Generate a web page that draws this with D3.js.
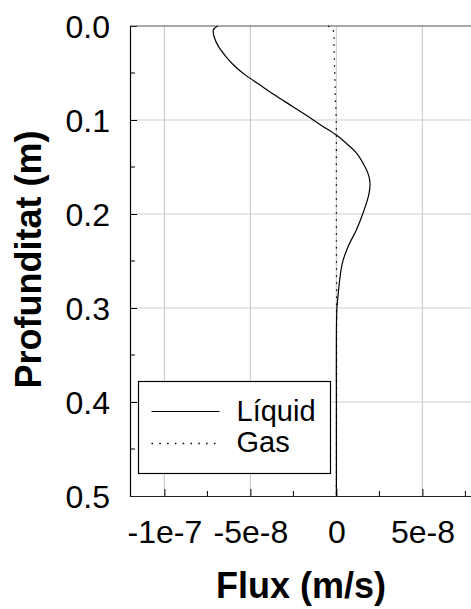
<!DOCTYPE html>
<html>
<head>
<meta charset="utf-8">
<script src="https://cdn.jsdelivr.net/npm/d3@7"></script>
<style>
  body { margin: 0; background: #fff; }
  svg { display: block; font-family: "Liberation Sans", Arial, sans-serif; }
</style>
</head>
<body>
<div id="flux_container"></div>
<script>
// data
const liquid_depth = [0, 0.004, 0.012, 0.022, 0.033, 0.042, 0.052, 0.062, 0.072, 0.085, 0.095, 0.106, 0.116, 0.126, 0.135, 0.146, 0.157, 0.166, 0.178, 0.199, 0.217, 0.235, 0.252, 0.27, 0.288, 0.30, 0.33, 0.4, 0.45, 0.5];
const liquid_flux = [-6.9e-8, -7.15e-8, -7.1e-8, -6.85e-8, -6.4e-8, -5.95e-8, -5.3e-8, -4.5e-8, -3.7e-8, -2.6e-8, -1.75e-8, -8.5e-9, 0, 6.5e-9, 1.16e-8, 1.55e-8, 1.84e-8, 1.95e-8, 1.9e-8, 1.55e-8, 1.16e-8, 6.7e-9, 3.5e-9, 1.9e-9, 9e-10, 3e-10, 0, 0, 0, 0];
const gas_depth = [0, 0.004, 0.022, 0.047, 0.075, 0.1, 0.15, 0.2, 0.3, 0.4, 0.5];
const gas_flux = [-4.9e-9, -2e-9, -1.4e-9, -1e-9, -6e-10, -1e-10, 0, 0, 1e-10, 1e-10, 0];
const x_ticks = [-1e-7, -5e-8, 0, 5e-8];
const x_tick_labels = ["-1e-7", "-5e-8", "0", "5e-8"];
const x_minor = [-7.5e-8, -2.5e-8, 2.5e-8, 7.5e-8];
const y_ticks = [0, 0.1, 0.2, 0.3, 0.4, 0.5];
const y_minor = [0.05, 0.15, 0.25, 0.35, 0.45];
const series_names = ["Líquid", "Gas"];

const W = 471, H = 609;
const margin = { top: 26, left: 130 };
const plot_h = 470;
const plot_w = 378.4;

const svg = d3.select("#flux_container")
    .append("svg")
    .attr("width", W)
    .attr("height", H);

const x = d3.scaleLinear().domain([-1.2e-7, 1e-7]).range([0, plot_w]);
const y = d3.scaleLinear().domain([0, 0.5]).range([0, plot_h]);

const g = svg.append("g")
    .attr("transform", `translate(${margin.left}, ${margin.top})`);

// grid
g.append("g").selectAll("line")
    .data(x_ticks)
    .enter().append("line")
    .attr("x1", d => x(d)).attr("x2", d => x(d))
    .attr("y1", 0).attr("y2", plot_h)
    .attr("stroke", "#cfcfcf").attr("stroke-width", 1.2);
g.append("g").selectAll("line")
    .data(y_ticks.slice(1, -1))
    .enter().append("line")
    .attr("x1", 0).attr("x2", plot_w)
    .attr("y1", d => y(d)).attr("y2", d => y(d))
    .attr("stroke", "#cfcfcf").attr("stroke-width", 1.2);

// left axis
const yAxis = g.append("g")
    .call(d3.axisLeft(y).tickValues(y_ticks).tickFormat(d3.format(".1f")).tickSizeInner(-7).tickSizeOuter(0).tickPadding(20));
yAxis.select(".domain").attr("stroke", "#000").attr("stroke-width", 1.2);
yAxis.selectAll(".tick line").attr("stroke", "#000");
yAxis.selectAll("text").attr("font-size", 32).attr("fill", "#000").attr("dy", "0.36em");
g.append("g").selectAll("line")
    .data(y_minor)
    .enter().append("line")
    .attr("x1", 0).attr("x2", 5)
    .attr("y1", d => y(d)).attr("y2", d => y(d))
    .attr("stroke", "#000");

// bottom axis
const xAxis = g.append("g")
    .attr("transform", `translate(0, ${plot_h})`)
    .call(d3.axisBottom(x).tickValues(x_ticks).tickFormat((d, i) => x_tick_labels[i]).tickSizeInner(-7).tickSizeOuter(0).tickPadding(24));
xAxis.select(".domain").attr("stroke", "#222").attr("stroke-width", 1.2);
xAxis.selectAll(".tick line").attr("stroke", "#000");
xAxis.selectAll("text").attr("font-size", 32).attr("fill", "#000");
g.append("g").selectAll("line")
    .data(x_minor)
    .enter().append("line")
    .attr("x1", d => x(d)).attr("x2", d => x(d))
    .attr("y1", plot_h).attr("y2", plot_h - 5)
    .attr("stroke", "#000");

// top frame
g.append("line")
    .attr("x1", 0).attr("x2", plot_w)
    .attr("y1", 0).attr("y2", 0)
    .attr("stroke", "#555").attr("stroke-width", 1.2);

// curves
const liquid = liquid_depth.map((d, i) => [liquid_flux[i], d]);
const gas = gas_depth.map((d, i) => [gas_flux[i], d]);
const line = d3.line()
    .x(d => x(d[0]))
    .y(d => y(d[1]))
    .curve(d3.curveCatmullRom.alpha(0.5));

g.append("path")
    .datum(gas)
    .attr("d", line)
    .attr("fill", "none")
    .attr("stroke", "#000")
    .attr("stroke-width", 1.3)
    .attr("stroke-dasharray", "1.5,5.5");

g.append("path")
    .datum(liquid)
    .attr("d", line)
    .attr("fill", "none")
    .attr("stroke", "#000")
    .attr("stroke-width", 1.2);

// legend
const legend = svg.append("g").attr("transform", "translate(138.5, 381.5)");
legend.append("rect")
    .attr("width", 192).attr("height", 92)
    .attr("fill", "#fff").attr("stroke", "#000").attr("stroke-width", 1.2);
legend.append("line")
    .attr("x1", 13).attr("x2", 81).attr("y1", 30).attr("y2", 30)
    .attr("stroke", "#000").attr("stroke-width", 1.2);
legend.append("line")
    .attr("x1", 13).attr("x2", 79).attr("y1", 62).attr("y2", 62)
    .attr("stroke", "#000").attr("stroke-width", 1.3).attr("stroke-dasharray", "1.5,6.3");
legend.selectAll("text.lab")
    .data(series_names)
    .enter().append("text")
    .attr("class", "lab")
    .attr("x", 98)
    .attr("y", (d, i) => 39 + i * 31)
    .attr("font-size", 29)
    .text(d => d);

// axis titles
svg.append("text")
    .attr("x", 301).attr("y", 598)
    .attr("text-anchor", "middle")
    .attr("font-size", 36).attr("font-weight", "bold")
    .text("Flux (m/s)");
svg.append("text")
    .attr("transform", "translate(41, 259.5) rotate(-90)")
    .attr("text-anchor", "middle")
    .attr("font-size", 36).attr("font-weight", "bold")
    .text("Profunditat (m)");
</script>
</body>
</html>
